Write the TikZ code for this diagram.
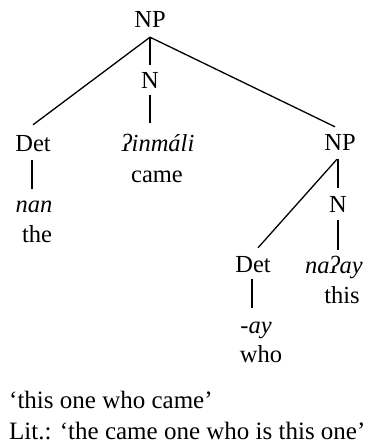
\documentclass[tikz,border=0pt]{standalone}
\usepackage{fontspec}
\setmainfont{Liberation Serif}
\begin{document}
\begin{tikzpicture}[x=1pt,y=-1pt,
  lab/.style={anchor=base,inner sep=0pt,text height=15pt,text depth=5pt,font=\fontsize{24.5}{29}\selectfont},
  gloss/.style={anchor=base west,inner sep=0pt,font=\fontsize{25}{29}\selectfont},
  br/.style={line width=1.3pt}]
\useasboundingbox (0,0) rectangle (366,444);
% level 0
\node[lab] (NP0) at (150,28) {NP};
% level 1
\node[lab] (N1) at (150,88) {N};
% level 2
\node[lab] (Det1) at (33,151) {Det};
\node[lab] (inm) at (158,151) {\textit{ʔinmáli}};
\node[lab] (came) at (157,182) {came};
\node[lab] (NP2) at (340,150) {NP};
\node[lab] (nan) at (34,212) {\textit{nan}};
\node[lab] (the) at (37,242) {the};
% level 3
\node[lab] (N2) at (338,212) {N};
% level 4
\node[lab] (Det2) at (253,272) {Det};
\node[lab] (naay) at (334,273) {\textit{naʔay}};
\node[lab] (this) at (342,303) {this};
\node[lab] (ay) at (256,333) {\textit{-ay}};
\node[lab] (who) at (261,362) {who};
% glosses
\node[gloss] (g1) at (9,408) {‘this one who came’};
\node[gloss] (g2) at (9,439) {Lit.: ‘the came one who is this one’};
% branches
\draw[br] ([yshift=-4pt]NP0.south) -- ([yshift=11pt]Det1.north);
\draw[br] ([yshift=-4pt]NP0.south) -- ([yshift=8pt]N1.north);
\draw[br] ([yshift=-4pt]NP0.south) -- ([xshift=-5pt,yshift=8pt]NP2.north);
\draw[br] ([yshift=-2pt]N1.south) -- ([yshift=13pt]N1.south |- inm.north);
\draw[br] ([xshift=-1pt,yshift=-4pt]Det1.south) -- ([xshift=-1pt,yshift=8pt]Det1.south |- nan.north);
\draw[br] ([xshift=-2pt,yshift=-4pt]NP2.south) -- ([yshift=9pt]N2.north);
\draw[br] ([xshift=-3pt,yshift=-4pt]NP2.south) -- ([xshift=5pt,yshift=9pt]Det2.north);
\draw[br] ([yshift=-3pt]N2.south) -- ([yshift=8pt]N2.south |- naay.north);
\draw[br] ([xshift=-1pt,yshift=-2pt]Det2.south) -- ([xshift=-1pt,yshift=10pt]Det2.south |- ay.north);
\end{tikzpicture}
\end{document}
